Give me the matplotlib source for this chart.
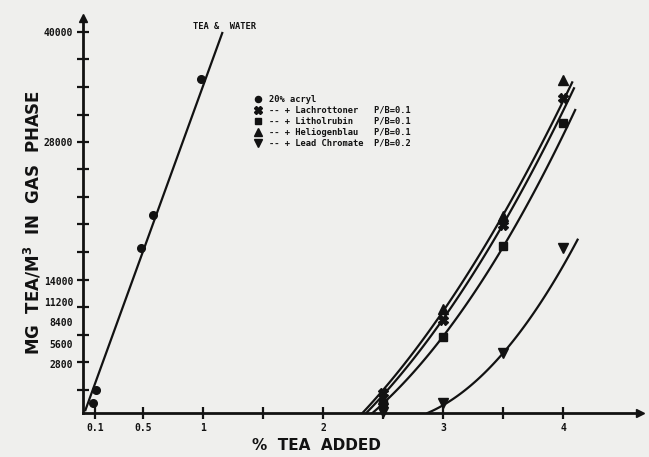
import numpy as np
import matplotlib
matplotlib.use("Agg")
import matplotlib.pyplot as plt

# ---- data ----
# tea & water line (circles)
tw_x = [0.08, 0.11, 0.48, 0.58, 0.98]
tw_y = [1050, 2400, 17300, 20800, 35100]
tw_line_x = [0.02, 1.16]
tw_line_y = [300, 39900]

# pigment series, markers
pig_x = [2.5, 3.0, 3.5, 4.0]
lach_y = [2100, 9800, 19700, 33100]
lith_y = [1000, 8000, 17500, 30500]
helio_y = [1500, 10900, 20700, 35000]
lead_y = [150, 1100, 6300, 17300]

# fitted curves (knots)
lach_curve_x = [2.36, 3.0, 3.5, 4.09]
lach_curve_y = [0, 9900, 19800, 34100]
lith_curve_x = [2.41, 3.0, 3.5, 4.10]
lith_curve_y = [0, 8000, 17500, 31800]
helio_curve_x = [2.33, 3.0, 3.5, 4.075]
helio_curve_y = [0, 10800, 20700, 34750]
lead_curve_x = [2.87, 3.5, 4.12]
lead_curve_y = [0, 6300, 18200]

legend_labels = [
    "20% acryl",
    "-- + Lachrottoner   P/B=0.1",
    "-- + Litholrubin    P/B=0.1",
    "-- + Heliogenblau   P/B=0.1",
    "-- + Lead Chromate  P/B=0.2",
]

x_ticks = [0.1, 0.5, 1, 1.5, 2, 2.5, 3, 3.5, 4]
x_labels = ["0.1", "0.5", "1", "", "2", "", "3", "", "4"]
y_labels = ["40000", "28000", "14000", "11200", "8400", "5600", "2800"]
# where the labels sit on the printed axis (scale is uneven in the original)
y_label_pos = [40005, 28455, 13860, 11655, 9555, 7245, 5145]
y_tick_marks = [40005 - 2887.5 * k for k in range(14)]

ink = "#121212"
paper = "#efefed"

fig = plt.figure(figsize=(6.49, 4.57), dpi=100, facecolor=paper)
ax = fig.add_axes([83 / 649, 44 / 457, 557 / 649, 395 / 457])
ax.set_facecolor(paper)
ax.set_xlim(0, 4.64)
ax.set_ylim(0, 41475)

for s in ["top", "right"]:
    ax.spines[s].set_visible(False)
for s in ["left", "bottom"]:
    ax.spines[s].set_linewidth(2)
    ax.spines[s].set_color(ink)
ax.plot(1, 0, ">", color=ink, ms=6, transform=ax.transAxes, clip_on=False)
ax.plot(0, 1, "^", color=ink, ms=6, transform=ax.transAxes, clip_on=False)

mono = {"family": "DejaVu Sans Mono", "weight": "bold"}

ax.set_xticks(x_ticks)
ax.set_xticklabels(x_labels, fontdict=dict(mono, size=7))
ax.yaxis.remove_overlapping_locs = False
ax.set_yticks(y_tick_marks)
ax.set_yticklabels([])
ax.set_yticks(y_label_pos, labels=y_labels, minor=True)
for lab in ax.get_yticklabels(minor=True):
    lab.set_fontfamily("DejaVu Sans Mono")
    lab.set_fontweight("bold")
    lab.set_fontsize(7)
ax.tick_params(which="major", direction="inout", length=9, width=1.6, color=ink, labelcolor=ink, pad=3)
ax.tick_params(axis="y", which="minor", length=0, pad=7, labelcolor=ink)

# tea & water
ax.plot(tw_line_x, tw_line_y, color=ink, lw=1.6)
ax.plot(tw_x, tw_y, "o", color=ink, ms=5.5)
ax.text(0.92, 40530, "TEA &  WATER", fontdict=dict(mono, size=6.3), color=ink, va="center")

def fitted(cx, cy):
    c = np.polyfit(cx, cy, 2)
    xs = np.linspace(cx[0], cx[-1], 80)
    return xs, np.polyval(c, xs)

for cx, cy in [(lach_curve_x, lach_curve_y), (lith_curve_x, lith_curve_y),
               (helio_curve_x, helio_curve_y), (lead_curve_x, lead_curve_y)]:
    xs, ys = fitted(cx, cy)
    ax.plot(xs, ys, color=ink, lw=1.6)

h_circ, = ax.plot([], [], "o", color=ink, ms=5.5)
h_lach, = ax.plot(pig_x, lach_y, "X", color=ink, ms=7, clip_on=False)
h_lith, = ax.plot(pig_x, lith_y, "s", color=ink, ms=5.5, clip_on=False)
h_helio, = ax.plot(pig_x, helio_y, "^", color=ink, ms=6.5, clip_on=False)
h_lead, = ax.plot(pig_x, lead_y, "v", color=ink, ms=7, clip_on=False)

leg = ax.legend([h_circ, h_lach, h_lith, h_helio, h_lead], legend_labels,
                loc="upper left", bbox_to_anchor=(254 / 649, 1 - 95 / 457),
                bbox_transform=fig.transFigure, frameon=False,
                prop=dict(family="DejaVu Sans Mono", weight="bold", size=6.3),
                handlelength=0.8, handletextpad=0.9, labelspacing=0.22,
                borderpad=0, borderaxespad=0, markerscale=0.8)
for t in leg.get_texts():
    t.set_color(ink)

fig.text(33 / 649, 1 - 222 / 457, "MG  TEA/M$^\\mathbf{3}$  IN  GAS  PHASE",
         rotation=90, ha="center", va="center", color=ink,
         fontsize=12, fontweight="bold", family="DejaVu Sans")
fig.text(316 / 649, 1 - 446 / 457, "%  TEA  ADDED",
         ha="center", va="center", color=ink,
         fontsize=11, fontweight="bold", family="DejaVu Sans")

fig.savefig("out.png", dpi=100, facecolor=paper)
